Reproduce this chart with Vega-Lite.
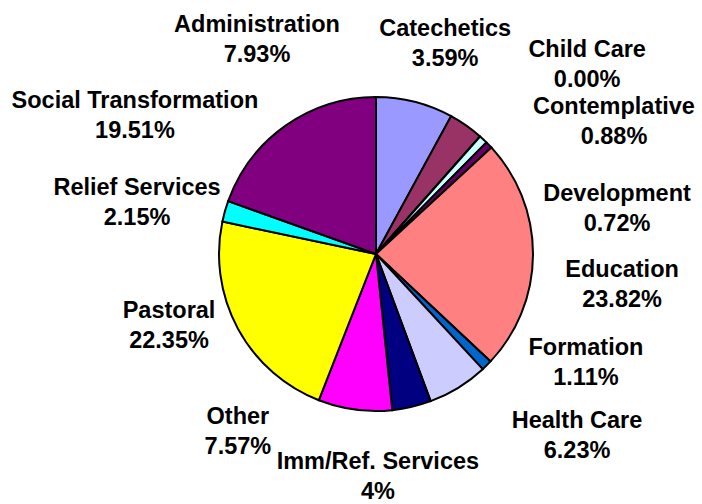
{
  "$schema": "https://vega.github.io/schema/vega-lite/v6.json",
  "width": 652,
  "height": 500,
  "autosize": {"type": "none"},
  "padding": {"left": 50, "top": 4, "right": 0, "bottom": 0},
  "background": "white",
  "config": {"view": {"stroke": null}},
  "datasets": {
    "shares": [
      {"category": "Administration", "value": 7.93},
      {"category": "Catechetics", "value": 3.59},
      {"category": "Child Care", "value": 0.0},
      {"category": "Contemplative", "value": 0.88},
      {"category": "Development", "value": 0.72},
      {"category": "Education", "value": 23.82},
      {"category": "Formation", "value": 1.11},
      {"category": "Health Care", "value": 6.23},
      {"category": "Imm/Ref. Services", "value": 4},
      {"category": "Other", "value": 7.57},
      {"category": "Pastoral", "value": 22.35},
      {"category": "Relief Services", "value": 2.15},
      {"category": "Social Transformation", "value": 19.51}
    ],
    "labels": [
      {"category": "Administration", "pctLabel": "7.93%", "labelAngle": 331.8, "labelRadius": 1.604},
      {"category": "Catechetics", "pctLabel": "3.59%", "labelAngle": 17.6, "labelRadius": 1.457},
      {"category": "Child Care", "pctLabel": "0.00%", "labelAngle": 47.0, "labelRadius": 1.839},
      {"category": "Contemplative", "pctLabel": "0.88%", "labelAngle": 59.5, "labelRadius": 1.759},
      {"category": "Development", "pctLabel": "0.72%", "labelAngle": 77.6, "labelRadius": 1.572},
      {"category": "Education", "pctLabel": "23.82%", "labelAngle": 95.3, "labelRadius": 1.574},
      {"category": "Formation", "pctLabel": "1.11%", "labelAngle": 115.7, "labelRadius": 1.484},
      {"category": "Health Care", "pctLabel": "6.23%", "labelAngle": 130.9, "labelRadius": 1.694},
      {"category": "Imm/Ref. Services", "pctLabel": "4%", "labelAngle": 179.5, "labelRadius": 1.37},
      {"category": "Other", "pctLabel": "7.57%", "labelAngle": 219.1, "labelRadius": 1.395},
      {"category": "Pastoral", "pctLabel": "22.35%", "labelAngle": 252.8, "labelRadius": 1.38},
      {"category": "Relief Services", "pctLabel": "2.15%", "labelAngle": 283.9, "labelRadius": 1.568},
      {"category": "Social Transformation", "pctLabel": "19.51%", "labelAngle": 301.2, "labelRadius": 1.795}
    ]
  },
  "layer": [
    {
      "data": {"name": "shares"},
      "mark": {"type": "arc", "outerRadius": 157, "stroke": "black", "strokeWidth": 2},
      "encoding": {
        "theta": {"field": "value", "type": "quantitative", "stack": true},
        "order": {"field": "category", "sort": "ascending"},
        "color": {
          "field": "category",
          "type": "nominal",
          "legend": null,
          "scale": {
            "domain": ["Administration", "Catechetics", "Child Care", "Contemplative", "Development", "Education", "Formation", "Health Care", "Imm/Ref. Services", "Other", "Pastoral", "Relief Services", "Social Transformation"],
            "range": ["#9999FF", "#993366", "#FFFFCC", "#CCFFFF", "#660066", "#FF8080", "#0066CC", "#CCCCFF", "#000080", "#FF00FF", "#FFFF00", "#00FFFF", "#800080"]
          }
        }
      }
    },
    {
      "data": {"name": "labels"},
      "transform": [{"calculate": "[datum.category, datum.pctLabel]", "as": "lines"}],
      "mark": {"type": "text", "font": "Liberation Sans", "fontWeight": "bold", "fontSize": 23.5, "lineHeight": 30, "align": "center", "baseline": "alphabetic", "color": "black"},
      "encoding": {
        "theta": {"field": "labelAngle", "type": "quantitative", "scale": {"domain": [0, 360], "range": [0, 6.283185307179586]}},
        "radius": {"field": "labelRadius", "type": "quantitative", "scale": {"type": "linear", "domain": [0, 1], "range": [0, 157], "zero": true}},
        "text": {"field": "lines"}
      }
    }
  ],
  "resolve": {"scale": {"theta": "independent", "radius": "independent"}}
}
